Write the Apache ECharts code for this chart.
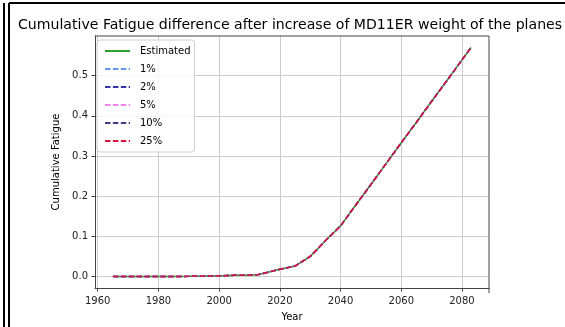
<!DOCTYPE html>
<html>
<head>
<meta charset="utf-8">
<script src="https://cdn.jsdelivr.net/npm/echarts@6/dist/echarts.min.js"></script>
<style>
  html, body { margin: 0; padding: 0; background: #fff; }
  #chart { width: 565px; height: 327px; }
</style>
</head>
<body>
<div id="chart"></div>
<script>
// Simulation years and cumulative fatigue per weight increase scenario
const years = [1965, 1970, 1975, 1980, 1985, 1990, 1995, 2000, 2005, 2010, 2013,
  2020, 2025, 2030, 2035, 2040, 2045, 2050, 2055, 2060, 2065, 2070, 2075, 2080, 2083];
const estimated = [0, 0, 0, 0, 0.0002, 0.0005, 0.001, 0.002, 0.003, 0.0035, 0.005,
  0.018, 0.026, 0.05, 0.089, 0.126, 0.178, 0.229, 0.281, 0.333, 0.384, 0.436, 0.487, 0.539, 0.570];
const inc1 = estimated.slice();
const inc2 = estimated.slice();
const inc5 = estimated.slice();
const inc10 = estimated.slice();
const inc25 = estimated.slice();

const seriesNames = ['Estimated', '1%', '2%', '5%', '10%', '25%'];
const seriesValues = [estimated, inc1, inc2, inc5, inc10, inc25];
const seriesColors = ['#2ca02c', '#6495ed', '#3535a5', '#ee82ee', '#483d8b', '#dc143c'];

const xTicks = [1960, 1980, 2000, 2020, 2040, 2060, 2080];
const yTicks = [0.0, 0.1, 0.2, 0.3, 0.4, 0.5];

const FONT = 'DejaVu Sans';

const chart = echarts.init(document.getElementById('chart'), null, { renderer: 'canvas' });

const series = seriesNames.map((name, i) => ({
  name: name,
  type: 'line',
  data: years.map((y, k) => [y, seriesValues[i][k]]),
  showSymbol: false,
  symbol: 'none',
  animation: false,
  color: seriesColors[i],
  lineStyle: {
    color: seriesColors[i],
    width: 1.5,
    type: i === 0 ? 'solid' : [5.5, 2.4]
  },
  z: 2 + i
}));

chart.setOption({
  animation: false,
  backgroundColor: '#fff',
  title: {
    text: 'Cumulative Fatigue difference after increase of MD11ER weight of the planes',
    left: 13,
    top: 13,
    textStyle: { fontFamily: FONT, fontSize: 14.1, fontWeight: 'normal', color: '#000' }
  },
  grid: { left: 95, top: 36, width: 394, height: 257, containLabel: false },
  legend: {
    orient: 'vertical',
    left: 97,
    top: 40,
    padding: [6, 4, 6, 7],
    itemWidth: 25,
    itemHeight: 10,
    itemGap: 8,
    borderColor: '#d0d0d0',
    borderWidth: 1,
    borderRadius: 3,
    backgroundColor: 'rgba(255,255,255,0.8)',
    itemStyle: { opacity: 0 },
    textStyle: { fontFamily: FONT, fontSize: 10, color: '#000', padding: [0, 0, 0, 5] },
    data: seriesNames
  },
  xAxis: {
    type: 'value',
    min: 1959.1,
    max: 2088.9,
    name: 'Year',
    nameLocation: 'middle',
    nameGap: 24,
    nameTextStyle: { fontFamily: FONT, fontSize: 10, color: '#000' },
    axisLine: { show: true, onZero: false, lineStyle: { color: '#444', width: 1 } },
    axisTick: { show: true, length: 3.5, customValues: xTicks, lineStyle: { color: '#444' } },
    axisLabel: { customValues: xTicks, margin: 8, fontFamily: FONT, fontSize: 10, color: '#222',
      formatter: v => String(v) },
    splitLine: { show: true, lineStyle: { color: '#cccccc', width: 1 } }
  },
  yAxis: {
    type: 'value',
    min: -0.0285,
    max: 0.5985,
    name: 'Cumulative Fatigue',
    nameLocation: 'middle',
    nameGap: 34,
    nameTextStyle: { fontFamily: FONT, fontSize: 10, color: '#000' },
    axisLine: { show: true, onZero: false, lineStyle: { color: '#444', width: 1 } },
    axisTick: { show: true, length: 3.5, customValues: yTicks, lineStyle: { color: '#444' } },
    axisLabel: { customValues: yTicks, margin: 7, fontFamily: FONT, fontSize: 10, color: '#222',
      formatter: v => v.toFixed(1) },
    splitLine: { show: true, lineStyle: { color: '#cccccc', width: 1 } }
  },
  series: series,
  graphic: [
    // right and top edges of the plot frame
    { type: 'line', shape: { x1: 489, y1: 36, x2: 489, y2: 293 }, style: { stroke: '#444', lineWidth: 1 }, z: 10 },
    { type: 'line', shape: { x1: 95, y1: 36, x2: 489, y2: 36 }, style: { stroke: '#444', lineWidth: 1 }, z: 10 },
    // outer page borders
    { type: 'line', shape: { x1: 4, y1: 3, x2: 4, y2: 327 }, style: { stroke: '#000', lineWidth: 2 }, z: 20 },
    { type: 'line', shape: { x1: 9, y1: 3, x2: 9, y2: 327 }, style: { stroke: '#000', lineWidth: 2 }, z: 20 },
    { type: 'line', shape: { x1: 9, y1: 3, x2: 565, y2: 3 }, style: { stroke: '#000', lineWidth: 2 }, z: 20 }
  ]
});
</script>
</body>
</html>
